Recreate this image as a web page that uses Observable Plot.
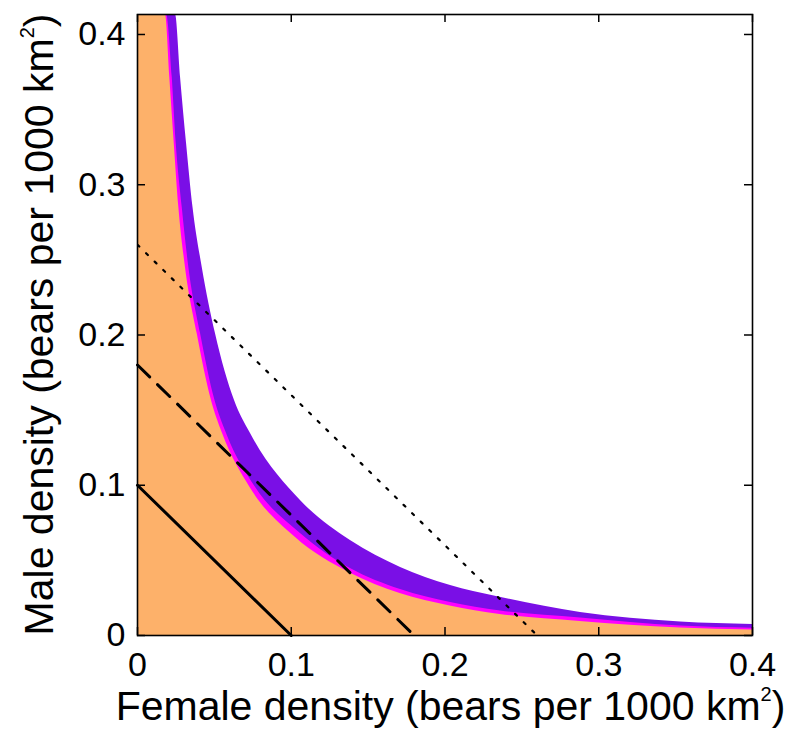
<!DOCTYPE html>
<html><head><meta charset="utf-8">
<script src="https://cdn.jsdelivr.net/npm/d3@7"></script>
<script src="https://cdn.jsdelivr.net/npm/@observablehq/plot@0.6"></script>
<style>
body{margin:0;background:#fff}
#chart svg{font-family:"Liberation Sans", Arial, Helvetica, sans-serif; overflow:visible}
</style>
</head><body><div id="chart"></div>
<script>
// ---- data ----
const xTicks = [0, 0.1, 0.2, 0.3, 0.4];
const yTicks = [0, 0.1, 0.2, 0.3, 0.4];
const xMax = 0.4;
const yTop = 0.4133;

// boundary of the orange region (lower edge of magenta band)
const orangeX = [0.0182, 0.0210, 0.0239, 0.0269, 0.0312, 0.0388, 0.0481, 0.0553, 0.0732, 0.1024, 0.1382, 0.1708, 0.2033, 0.2358, 0.2878, 0.3529, 0.400];
const orangeY = [0.4133, 0.3714, 0.3275, 0.2849, 0.2449, 0.2010, 0.1564, 0.1344, 0.0985, 0.0655, 0.0416, 0.0280, 0.0197, 0.0140, 0.0094, 0.0050, 0.0036];
// upper edge of magenta band (lower edge of purple band)
const magentaX = [0.0189, 0.0226, 0.0252, 0.0291, 0.0334, 0.0410, 0.0504, 0.0579, 0.0768, 0.1060, 0.1385, 0.1711, 0.2036, 0.2361, 0.2881, 0.3532, 0.400];
const magentaY = [0.4133, 0.3714, 0.3275, 0.2849, 0.2449, 0.2010, 0.1564, 0.1344, 0.0985, 0.0679, 0.0446, 0.0306, 0.0220, 0.0163, 0.0117, 0.0063, 0.0048];
// upper edge of purple band
const purpleX = [0.0247, 0.0280, 0.0319, 0.0361, 0.0421, 0.0507, 0.0631, 0.0735, 0.1060, 0.1385, 0.1711, 0.2036, 0.2335, 0.2881, 0.3532, 0.400];
const purpleY = [0.4133, 0.3714, 0.3275, 0.2849, 0.2449, 0.2010, 0.1564, 0.1344, 0.0899, 0.0632, 0.0453, 0.0333, 0.0260, 0.0153, 0.0090, 0.0073];

// straight reference lines: intercepts on both axes
const solidIntercept = 0.10;
const dashedIntercept = 0.18;
const dottedIntercept = 0.26;

const xLabel = ["Female density (bears per 1000 km", "2", ")"];
const yLabel = ["Male density (bears per 1000 km", "2", ")"];

// ---- build tables ----
const under = (X, Y) => [{x: 0, y: yTop}, ...X.map((x, i) => ({x, y: Y[i]}))];
const orange = under(orangeX, orangeY);
const magenta = under(magentaX, magentaY);
const purple = under(purpleX, purpleY);
const seg = (c) => [{x: 0, y: c}, {x: c, y: 0}];

const W = 793, H = 754, mL = 137, mR = 41, mT = 14, mB = 119;
const pw = W - mL - mR, ph = H - mT - mB;
const tk = 8;

const plot = Plot.plot({
  width: W, height: H,
  marginLeft: mL, marginRight: mR, marginTop: mT, marginBottom: mB,
  x: {domain: [0, xMax]},
  y: {domain: [0, yTop]},
  style: {background: "white", color: "black", fontFamily: '"Liberation Sans", Arial, sans-serif'},
  marks: [
    Plot.areaY(purple, {x: "x", y1: 0, y2: "y", fill: "#7A0FE6", curve: "monotone-x", clip: true}),
    Plot.areaY(magenta, {x: "x", y1: 0, y2: "y", fill: "#FF00FF", curve: "monotone-x", clip: true}),
    Plot.areaY(orange, {x: "x", y1: 0, y2: "y", fill: "#FDB16A", curve: "monotone-x", clip: true}),
    Plot.line(seg(solidIntercept), {x: "x", y: "y", stroke: "black", strokeWidth: 3}),
    Plot.line(seg(dashedIntercept), {x: "x", y: "y", stroke: "black", strokeWidth: 3, strokeDasharray: "17,11"}),
    Plot.line(seg(dottedIntercept), {x: "x", y: "y", stroke: "black", strokeWidth: 2.2, strokeDasharray: "2.5,9.5", clip: true}),
    Plot.frame({stroke: "black", strokeWidth: 1.6}),
    Plot.tickX(xTicks, {x: d => d, insetTop: ph - tk, stroke: "black", strokeWidth: 1.5}),
    Plot.tickX(xTicks, {x: d => d, insetBottom: ph - tk, stroke: "black", strokeWidth: 1.5}),
    Plot.tickY(yTicks, {y: d => d, insetRight: pw - tk, stroke: "black", strokeWidth: 1.5}),
    Plot.tickY(yTicks, {y: d => d, insetLeft: pw - tk, stroke: "black", strokeWidth: 1.5}),
    Plot.axisX(xTicks, {anchor: "bottom", tickSize: 0, tickPadding: 16, tickFormat: d => String(d), label: null, fontSize: 34}),
    Plot.axisY(yTicks, {anchor: "left", tickSize: 0, tickPadding: 12, tickFormat: d => String(d), label: null, fontSize: 34})
  ]
});
document.getElementById("chart").appendChild(plot);

const svg = d3.select(plot);
function addLabel(parts, attrs) {
  const t = svg.append("text")
    .attr("font-size", 41)
    .attr("fill", "black")
    .attr("text-anchor", "middle");
  for (const [k, v] of Object.entries(attrs)) t.attr(k, v);
  t.append("tspan").text(parts[0]);
  t.append("tspan").attr("font-size", 20).attr("dy", -19).text(parts[1]);
  t.append("tspan").attr("dy", 19).text(parts[2]);
}
addLabel(xLabel, {x: mL + pw / 2 + 6, y: 720});
addLabel(yLabel, {transform: `translate(53,${mT + ph / 2}) rotate(-90)`});
</script>
</body></html>
